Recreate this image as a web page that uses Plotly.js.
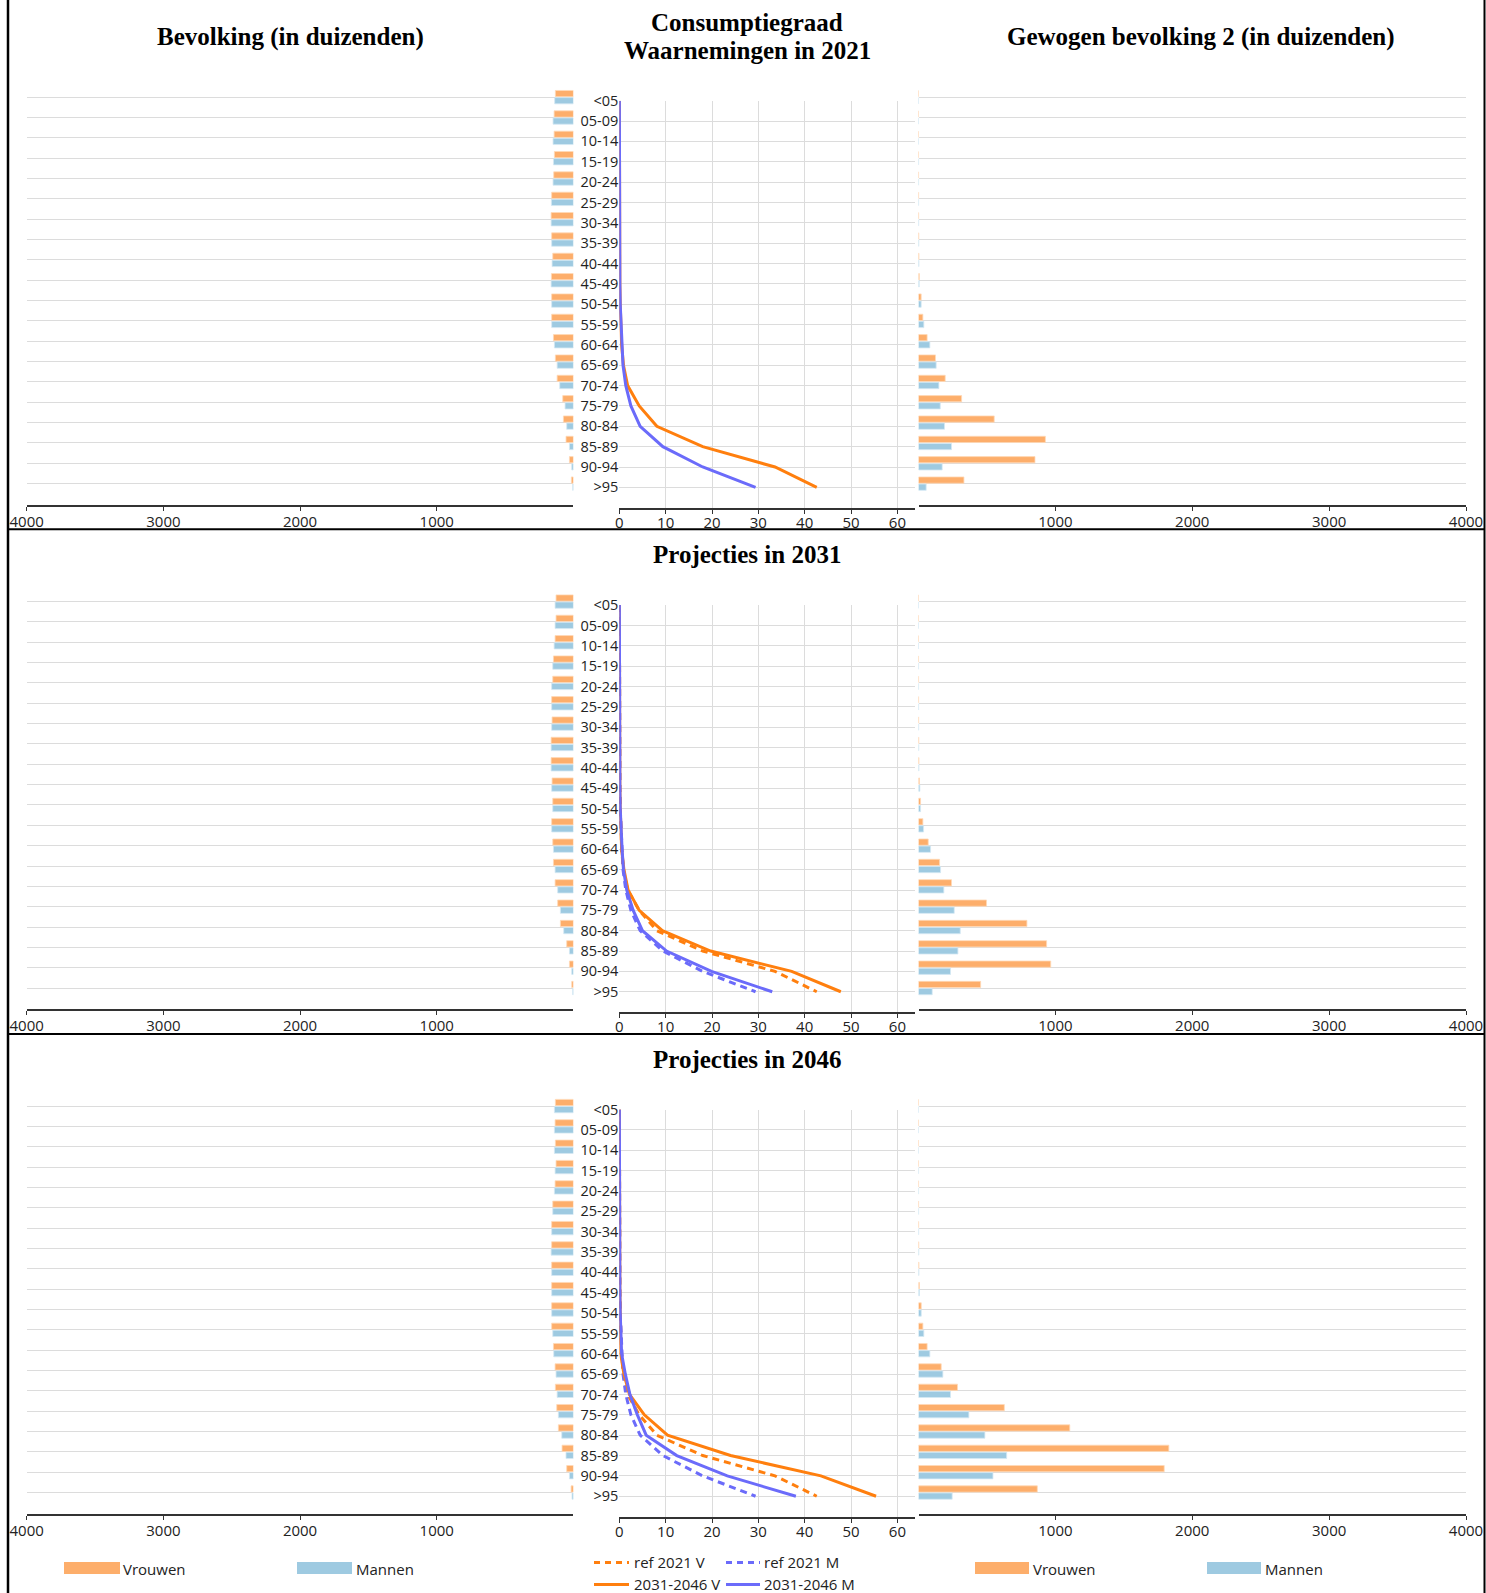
<!DOCTYPE html>
<html>
<head>
<meta charset="utf-8">
<script src="https://cdn.plot.ly/plotly-3.0.1.min.js"></script>
<style>html,body{margin:0;padding:0;background:#fff;}#chart{width:1486px;height:1593px;}</style>
</head>
<body>
<div id="chart"></div>
<script>
// ---------- DATA ----------
const ageGroups = ['<05','05-09','10-14','15-19','20-24','25-29','30-34','35-39','40-44','45-49','50-54','55-59','60-64','65-69','70-74','75-79','80-84','85-89','90-94','>95'];

// Bevolking (in duizenden)
const popV2021 = [132,141,141,139,144,159,163,159,151,161,159,159,146,132,119,78,73,54,29,15];
const popM2021 = [137,149,149,146,149,161,163,159,156,163,159,159,139,119,100,61,49,29,12,5];
const popV2031 = [127,127,134,146,151,159,156,163,163,156,151,159,151,146,134,115,95,49,29,12];
const popM2031 = [134,134,141,151,159,159,159,163,163,159,151,159,146,134,115,95,71,29,12,5];
const popV2046 = [132,134,132,127,134,151,159,159,159,159,159,159,146,134,132,122,110,83,49,17];
const popM2046 = [139,139,139,134,139,151,159,163,159,159,159,151,144,127,119,110,85,54,29,10];

// Consumptiegraad
const cgV2021 = [0.02,0.02,0.02,0.03,0.05,0.05,0.07,0.08,0.1,0.12,0.2,0.3,0.5,0.9,1.8,4.3,8.1,18.0,33.6,42.6];
const cgM2021 = [0.02,0.02,0.02,0.03,0.05,0.05,0.07,0.08,0.1,0.12,0.2,0.35,0.6,0.8,1.4,2.5,4.5,9.4,18.0,29.4];
const cgV2031 = [0.02,0.02,0.02,0.03,0.05,0.05,0.07,0.08,0.1,0.12,0.2,0.3,0.5,1.0,1.9,4.3,9.3,19.7,37.2,47.8];
const cgM2031 = [0.02,0.02,0.02,0.03,0.05,0.05,0.07,0.08,0.1,0.12,0.2,0.35,0.6,0.9,1.6,3.0,5.0,10.2,19.9,33.0];
const cgV2046 = [0.02,0.02,0.02,0.03,0.05,0.05,0.07,0.08,0.1,0.12,0.2,0.3,0.3,1.0,2.2,5.4,10.4,24.0,43.5,55.4];
const cgM2046 = [0.02,0.02,0.02,0.03,0.05,0.05,0.07,0.08,0.1,0.12,0.2,0.35,0.5,1.3,2.3,3.9,5.8,12.4,23.3,38.1];

// Gewogen bevolking 2 (in duizenden)
const wV2021 = [0.2,0.2,0.2,0.3,0.5,0.8,1,2,3,6,19.5,32,63,124,195,315,553,927,851,332];
const wM2021 = [0.2,0.2,0.2,0.3,0.5,0.8,1,2,3,5,19.5,39,83,129,149,159,190,241,173,56];
const wV2031 = [0.2,0.2,0.2,0.3,0.5,0.8,1,2,3,7,15,32,71,154,241,497,792,936,966,454];
const wM2031 = [0.2,0.2,0.2,0.3,0.5,0.8,1,2,3,10,15,37,88,161,185,261,305,288,234,100];
const wV2046 = [0.2,0.2,0.2,0.3,0.5,0.8,1,2,3,7,20,32,63,166,285,627,1105,1829,1795,868];
const wM2046 = [0.2,0.2,0.2,0.3,0.5,0.8,1,2,3,7,20,39,83,178,234,368,485,644,544,246];

const leftTicks = [4000,3000,2000,1000];
const rightTicks = [1000,2000,3000,4000];
const midTicks = [0,10,20,30,40,50,60];

const rowTitles = ['Waarnemingen in 2021','Projecties in 2031','Projecties in 2046'];
const legendBars = ['Vrouwen','Mannen'];
const legendLines = ['ref 2021 V','ref 2021 M','2031-2046 V','2031-2046 M'];

// ---------- STYLE ----------
const W = 1486, H = 1593;
const PX = x => x / W;
const PY = y => 1 - y / H;
const cOrangeBar = '#FDAE6B', cBlueBar = '#9ECAE1';
const cOrangeLine = '#FF7F0E', cBlueLine = '#6B6BFA';
const gridC = '#dcdcdc';

const rows = [
  {pop:[popV2021,popM2021], cg:[cgV2021,cgM2021], ref:false, w:[wV2021,wM2021]},
  {pop:[popV2031,popM2031], cg:[cgV2031,cgM2031], ref:true,  w:[wV2031,wM2031]},
  {pop:[popV2046,popM2046], cg:[cgV2046,cgM2046], ref:true,  w:[wV2046,wM2046]}
];
const rowOff = [0, 504.4, 1008.9];
const colX = [[26.7,573.4],[619.3,915],[918.5,1466]];

const data = [];
const layout = {
  width: W, height: H,
  margin: {l:0,r:0,t:0,b:0},
  paper_bgcolor: '#fff', plot_bgcolor: 'rgba(0,0,0,0)',
  showlegend: false,
  barmode: 'group', bargap: 0.3, bargroupgap: 0.12,
  hovermode: false,
  font: {family: 'Open Sans', size: 15, color: '#222'},
  shapes: [], annotations: []
};

function ax(i){ return i === 1 ? '' : String(i); }

rows.forEach((row, r) => {
  const off = rowOff[r];
  const iL = r*3+1, iM = r*3+2, iR = r*3+3;
  const barDom = [PY(505+off), PY(87+off)];
  const midDom = [PY(507.7+off), PY(100.7+off)];

  // left axes
  layout['xaxis'+ax(iL)] = {
    domain:[PX(colX[0][0]), PX(colX[0][1])], anchor:'y'+ax(iL),
    range:[4000,0], tickvals:leftTicks, ticktext:leftTicks.map(String),
    showgrid:false, zeroline:false, showline:true, linecolor:'#333', linewidth:2,
    ticks:'outside', ticklen:4, tickcolor:'#333', ticklabelstandoff:-2,
    tickfont:{size:15, color:'#222'}
  };
  layout['yaxis'+ax(iL)] = {
    domain:barDom, anchor:'x'+ax(iL), type:'category', categoryarray:ageGroups,
    range:[20.05,-0.5], showticklabels:false, showgrid:true, gridcolor:gridC,
    zeroline:false, showline:false, ticks:''
  };
  // middle axes
  layout['xaxis'+ax(iM)] = {
    domain:[PX(colX[1][0]), PX(colX[1][1])], anchor:'y'+ax(iM),
    range:[0,63.8], tickvals:midTicks, showgrid:true, gridcolor:gridC,
    zeroline:false, showline:true, linecolor:'#333', linewidth:2,
    ticks:'outside', ticklen:4, tickcolor:'#333', ticklabelstandoff:-4,
    tickfont:{size:15, color:'#222'}
  };
  layout['yaxis'+ax(iM)] = {
    domain:midDom, anchor:'x'+ax(iM), type:'category', categoryarray:ageGroups,
    range:[20,0], showgrid:true, gridcolor:gridC, zeroline:false, showline:false,
    ticks:'', tickfont:{size:14.5, color:'#222'}
  };
  // right axes
  layout['xaxis'+ax(iR)] = {
    domain:[PX(colX[2][0]), PX(colX[2][1])], anchor:'y'+ax(iR),
    range:[0,4000], tickvals:rightTicks, ticktext:rightTicks.map(String),
    showgrid:false, zeroline:false, showline:true, linecolor:'#333', linewidth:2,
    ticks:'outside', ticklen:4, tickcolor:'#333', ticklabelstandoff:-2,
    tickfont:{size:15, color:'#222'}
  };
  layout['yaxis'+ax(iR)] = {
    domain:barDom, anchor:'x'+ax(iR), type:'category', categoryarray:ageGroups,
    range:[20.05,-0.5], showticklabels:false, showgrid:true, gridcolor:gridC,
    zeroline:false, showline:false, ticks:''
  };

  // left bars
  [[row.pop[0], cOrangeBar, '#FFD9B8'], [row.pop[1], cBlueBar, '#D4E9F4']].forEach(([vals, col, lc]) => {
    data.push({type:'bar', orientation:'h', x:vals, y:ageGroups,
      xaxis:'x'+ax(iL), yaxis:'y'+ax(iL),
      marker:{color:col, line:{color:lc, width:0.8}}});
  });
  // middle lines
  if (row.ref) {
    data.push({type:'scatter', mode:'lines', x:cgV2021, y:ageGroups, xaxis:'x'+ax(iM), yaxis:'y'+ax(iM),
      line:{color:cOrangeLine, width:3, dash:'7px,5px'}, cliponaxis:true});
    data.push({type:'scatter', mode:'lines', x:cgM2021, y:ageGroups, xaxis:'x'+ax(iM), yaxis:'y'+ax(iM),
      line:{color:cBlueLine, width:3, dash:'7px,5px'}, cliponaxis:true});
  }
  data.push({type:'scatter', mode:'lines', x:row.cg[0], y:ageGroups, xaxis:'x'+ax(iM), yaxis:'y'+ax(iM),
    line:{color:cOrangeLine, width:3}, cliponaxis:false});
  data.push({type:'scatter', mode:'lines', x:row.cg[1], y:ageGroups, xaxis:'x'+ax(iM), yaxis:'y'+ax(iM),
    line:{color:cBlueLine, width:3}, cliponaxis:false});
  // right bars
  [[row.w[0], cOrangeBar, '#FFD9B8'], [row.w[1], cBlueBar, '#D4E9F4']].forEach(([vals, col, lc]) => {
    data.push({type:'bar', orientation:'h', x:vals, y:ageGroups,
      xaxis:'x'+ax(iR), yaxis:'y'+ax(iR),
      marker:{color:col, line:{color:lc, width:0.8}}});
  });
});

// ---------- TITLES ----------
const titleFont = {family:'Liberation Serif', size:25, color:'#000'};
function ann(text, x, y, font, xanchor){
  layout.annotations.push({text, x:PX(x), y:PY(y), xref:'paper', yref:'paper',
    xanchor:xanchor||'center', yanchor:'middle', showarrow:false, font});
}
ann('<b>Bevolking (in duizenden)</b>', 290, 36.6, titleFont);
ann('<b>Consumptiegraad</b>', 747, 22.4, titleFont);
ann('<b>' + rowTitles[0] + '</b>', 747, 50.8, titleFont);
ann('<b>Gewogen bevolking 2 (in duizenden)</b>', 1201, 36.6, titleFont);
ann('<b>' + rowTitles[1] + '</b>', 747, 554.6, titleFont);
ann('<b>' + rowTitles[2] + '</b>', 747, 1059.4, titleFont);

// ---------- FRAME ----------
function line(x0,y0,x1,y1,color,width,dash){
  layout.shapes.push({type:'line', xref:'paper', yref:'paper', x0:PX(x0), y0:PY(y0), x1:PX(x1), y1:PY(y1),
    line:{color, width, dash:dash||'solid'}, layer:'above'});
}
function rect(x0,y0,x1,y1,color){
  layout.shapes.push({type:'rect', xref:'paper', yref:'paper', x0:PX(x0), y0:PY(y0), x1:PX(x1), y1:PY(y1),
    fillcolor:color, line:{width:0}, layer:'above'});
}
line(8,0,8,1593,'#000',2.5);
line(1484.5,0,1484.5,1593,'#000',2);
line(8,529.2,1485,529.2,'#000',2);
line(8,1034,1485,1034,'#000',2);

// ---------- LEGENDS ----------
const legFont = {family:'Open Sans', size:15, color:'#222'};
rect(64,1562,120,1574,cOrangeBar); ann(legendBars[0], 121, 1568.5, legFont, 'left');
rect(297,1562,352,1574,cBlueBar);  ann(legendBars[1], 354, 1568.5, legFont, 'left');
rect(975,1562,1029,1574,cOrangeBar); ann(legendBars[0], 1031, 1568.5, legFont, 'left');
rect(1207,1562,1261,1574,cBlueBar);  ann(legendBars[1], 1263, 1568.5, legFont, 'left');

line(594,1562.5,629,1562.5,cOrangeLine,3,'6px,5px'); ann(legendLines[0], 632, 1562, legFont, 'left');
line(726,1562.5,760,1562.5,cBlueLine,3,'6px,5px');   ann(legendLines[1], 762, 1562, legFont, 'left');
line(594,1584.5,629,1584.5,cOrangeLine,3);           ann(legendLines[2], 632, 1584, legFont, 'left');
line(726,1584.5,760,1584.5,cBlueLine,3);             ann(legendLines[3], 762, 1584, legFont, 'left');

Plotly.newPlot('chart', data, layout, {staticPlot:true, displayModeBar:false});
</script>
</body>
</html>
